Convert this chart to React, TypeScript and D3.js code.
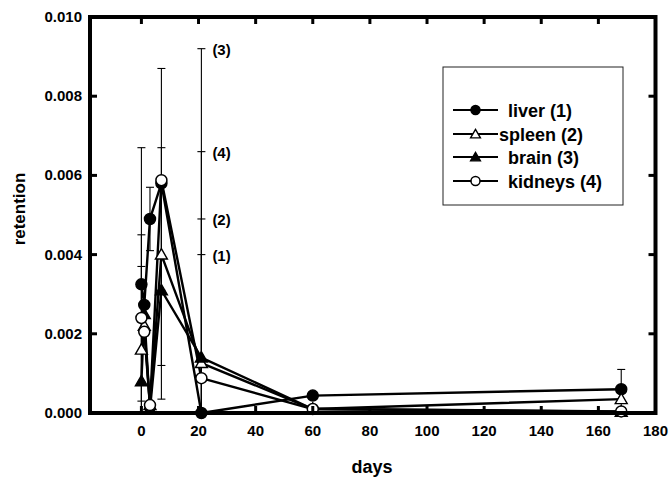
import React from "react";
import * as d3 from "d3";

const days = [0, 1, 3, 7, 21, 60, 168];
const liver = [0.00325, 0.00273, 0.0049, 0.0058, 0.0, 0.00044, 0.0006];
const spleen = [0.0016, 0.0022, 0.0002, 0.004, 0.00126, 0.0001, 0.00035];
const brain = [0.0008, 0.0025, 0.0001, 0.0031, 0.0014, 0.0001, 0.00003];
const kidneys = [0.0024, 0.00205, 0.0002, 0.00588, 0.00088, 0.0001, 0.00004];

const seriesNames = ["liver (1)", "spleen (2)", "brain (3)", "kidneys (4)"];
const seriesValues = [liver, spleen, brain, kidneys];
const seriesMarkers = ["circleFilled", "triangleOpen", "triangleFilled", "circleOpen"];

// error bars: day, low end, high end (low of 0 = no cap)
const errDays = [0, 0, 0, 3, 7, 7, 7, 21, 21, 21, 21, 168];
const errLow = [0, 0.0003, 0, 0.0041, 0.0031, 0.0012, 0.00035, 0, 0, 0, 0, 0];
const errHigh = [0.0067, 0.0045, 0.0037, 0.0057, 0.0087, 0.0067, 0.0058, 0.004, 0.0049, 0.0092, 0.0066, 0.0011];

const labelDays = [21, 21, 21, 21];
const labelValues = [0.004, 0.0049, 0.0092, 0.0066];
const labelTexts = ["(1)", "(2)", "(3)", "(4)"];

const xTicks = [0, 20, 40, 60, 80, 100, 120, 140, 160, 180];
const yTicks = [0, 0.002, 0.004, 0.006, 0.008, 0.01];

const W = 669;
const H = 477;
const FONT = "'Liberation Sans', Arial, Helvetica, sans-serif";

function Marker({ kind, cx, cy, scale = 1 }: { kind: string; cx: number; cy: number; scale?: number }) {
  if (kind.startsWith("circle")) {
    return (
      <circle
        cx={cx}
        cy={cy}
        r={5.5 * scale}
        fill={kind === "circleFilled" ? "#000" : "#fff"}
        stroke="#000"
        strokeWidth={1.5}
      />
    );
  }
  const p = d3.symbol().type(d3.symbolTriangle).size(62 * scale * scale)() as string;
  return (
    <path
      d={p}
      transform={`translate(${cx},${cy + 1})`}
      fill={kind === "triangleFilled" ? "#000" : "#fff"}
      stroke="#000"
      strokeWidth={1.4}
    />
  );
}

export default function App() {
  const x = d3.scaleLinear().domain([-18, 180]).range([90, 655.5]);
  const y = d3.scaleLinear().domain([0, 0.01]).range([413, 17]);
  const line = d3
    .line<number>()
    .x((_, i) => x(days[i]))
    .y((v) => y(v));

  const left = x.range()[0];
  const right = x.range()[1];
  const top = y.range()[1];
  const bottom = y.range()[0];

  const legendX = 443;
  const legendY = 67;
  const legendRows = [110, 134, 157, 181];

  return (
    <svg
      width={W}
      height={H}
      style={{ position: "absolute", left: 0, top: 0, background: "#fff" }}
      fontFamily={FONT}
      fontWeight="bold"
    >
      <rect x={0} y={0} width={W} height={H} fill="#fff" />
      {/* error bars */}
      {errDays.map((d, i) => {
        const cx = x(d);
        const y1 = y(errLow[i]);
        const y2 = y(errHigh[i]);
        return (
          <g key={"e" + i} stroke="#000" strokeWidth={1.1}>
            <line x1={cx} x2={cx} y1={y1} y2={y2} />
            <line x1={cx - 4} x2={cx + 4} y1={y2} y2={y2} />
            {errLow[i] > 0 && <line x1={cx - 4} x2={cx + 4} y1={y1} y2={y1} />}
          </g>
        );
      })}
      {labelTexts.map((t, i) => (
        <text
          key={"l" + i}
          x={x(labelDays[i]) + 11}
          y={y(labelValues[i]) + 6}
          fontSize={15}
          fill="#000"
        >
          {t}
        </text>
      ))}
      {/* lines */}
      {seriesValues.map((vals, si) => (
        <path key={"s" + si} d={line(vals) as string} fill="none" stroke="#000" strokeWidth={2.4} strokeLinejoin="round" />
      ))}
      {/* markers */}
      {seriesValues.map((vals, si) =>
        vals.map((v, i) => (
          <Marker key={"m" + si + "_" + i} kind={seriesMarkers[si]} cx={x(days[i])} cy={y(v)} />
        ))
      )}
      {/* frame */}
      <rect x={left} y={top} width={right - left} height={bottom - top} fill="none" stroke="#000" strokeWidth={4} />
      {/* x ticks */}
      {xTicks.map((t) => (
        <g key={"xt" + t}>
          {t !== 180 && (
            <>
              <line x1={x(t)} x2={x(t)} y1={bottom} y2={bottom - 7} stroke="#000" strokeWidth={3} />
              <line x1={x(t)} x2={x(t)} y1={top} y2={top + 7} stroke="#000" strokeWidth={3} />
            </>
          )}
          <text x={x(t)} y={bottom + 23} textAnchor="middle" fontSize={15} fill="#000">
            {t}
          </text>
        </g>
      ))}
      {/* y ticks */}
      {yTicks.map((t) => (
        <g key={"yt" + t}>
          {t !== 0 && t !== 0.01 && (
            <>
              <line x1={left} x2={left + 7} y1={y(t)} y2={y(t)} stroke="#000" strokeWidth={3} />
              <line x1={right} x2={right - 7} y1={y(t)} y2={y(t)} stroke="#000" strokeWidth={3} />
            </>
          )}
          <text x={left - 8} y={y(t) + 5} textAnchor="end" fontSize={15} fill="#000">
            {t.toFixed(3)}
          </text>
        </g>
      ))}
      {/* axis titles */}
      <text x={372} y={473} textAnchor="middle" fontSize={18} fill="#000">
        days
      </text>
      <text
        transform={`translate(25,${(top + bottom) / 2 - 6}) rotate(-90)`}
        textAnchor="middle"
        fontSize={17}
        fill="#000"
      >
        retention
      </text>
      {/* legend */}
      <rect x={legendX} y={legendY} width={180} height={138} fill="#fff" stroke="#222" strokeWidth={1} />
      {seriesNames.map((n, i) => (
        <g key={"lg" + i}>
          <line x1={453} x2={498} y1={legendRows[i]} y2={legendRows[i]} stroke="#000" strokeWidth={2.2} />
          <Marker kind={seriesMarkers[i]} cx={475.5} cy={legendRows[i]} scale={0.82} />
          <text x={i === 1 ? 499 : 508} y={legendRows[i] + 6.5} fontSize={18} fill="#000">
            {n}
          </text>
        </g>
      ))}
    </svg>
  );
}
